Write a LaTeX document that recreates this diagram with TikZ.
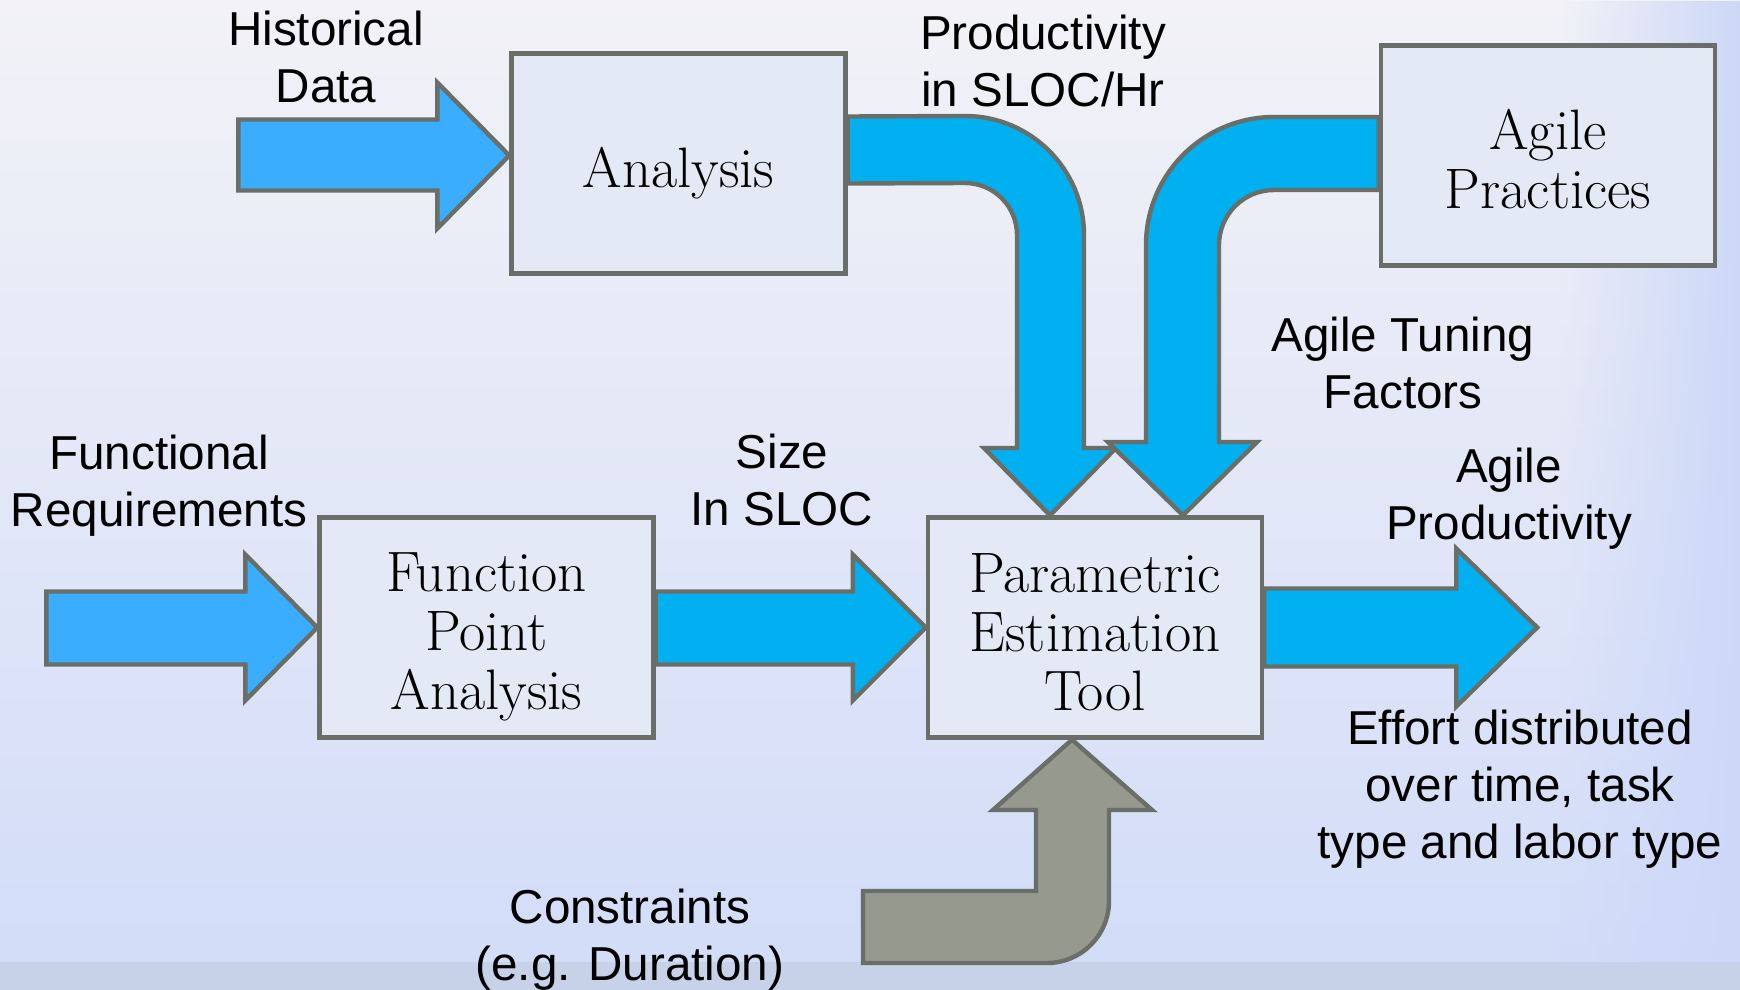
\documentclass[tikz,border=0pt]{standalone}
\usepackage{fontspec}
\setsansfont{Liberation Sans}
\usetikzlibrary{calc,fadings}
\definecolor{skyfill}{RGB}{59,173,255}
\definecolor{flowfill}{RGB}{0,176,240}
\definecolor{stonefill}{RGB}{149,153,142}
\definecolor{rimcol}{RGB}{106,110,104}
\definecolor{boxfill}{RGB}{227,233,245}
\definecolor{bgtop}{RGB}{242,242,247}
\definecolor{bgmid}{RGB}{231,234,250}
\definecolor{bgbot}{RGB}{210,220,248}
\definecolor{bgband}{RGB}{199,210,233}
\definecolor{bgside}{RGB}{205,216,248}
\pgfdeclarelayer{back}
\pgfdeclarelayer{flow}
\pgfsetlayers{back,flow,main}
\tikzfading[name=fadeleft, left color=transparent!100, right color=transparent!0]

\begin{document}
\begin{tikzpicture}[x=0.5pt,y=-0.5pt,
  box/.style={draw=rimcol, line width=2.2pt, fill=boxfill, minimum width=167pt, minimum height=110pt,
    inner sep=0pt, align=center, font=\fontsize{28.5}{29.5}\selectfont},
  tag/.style={align=center, font=\sffamily\fontsize{23.8}{28.6}\selectfont},
  blockarrow/.style={draw=rimcol, line width=2.2pt, line join=miter}]
\useasboundingbox (0,0) rectangle (1740,990);
\begin{pgfonlayer}{back}
\fill[top color=bgtop, middle color=bgmid, bottom color=bgbot] (0,0) rectangle (1740,990);
\fill[bgside, path fading=fadeleft] (1560,0) rectangle (1740,990);
\fill[bgband] (0,962) rectangle (1740,990);
\end{pgfonlayer}

\node [box, text height=30pt] (ana) at (678.5,163.5) {Analysis};
\node [box, text height=53pt] (agp) at (1548,155.5) {Agile\\Practices};
\node [box, text height=88pt] (fpa) at (486.5,627.5) {Function\\Point\\Analysis};
\node [box, text height=83.5pt] (pet) at (1095,627.5) {Parametric\\Estimation\\Tool};

\node [tag] (hist) at (326,57) {Historical\\Data};
\node [tag] (prod) at (1043,61) {Productivity\\in SLOC/Hr};
\node [tag] (tune) at (1403,363) {Agile Tuning\\Factors};
\node [tag] (freq) at (159,486) {Functional\\Requirements};
\node [tag] (size) at (782,480) {Size\\In SLOC};
\node [tag] (aprod) at (1509,499) {Agile\\Productivity};
\node [tag] (eff) at (1520,789) {Effort distributed\\over time, task\\type and labor type};
\node [tag] (cons) at (630,940) {Constraints\\(e.g. Duration)};

\begin{pgfonlayer}{flow}
\draw [blockarrow, fill=skyfill] ($(ana.west)+(0,-8)$) -- ++(-72,-73) -- ++(0,37) -- ++(-199,0)
  -- ++(0,71) -- ++(199,0) -- ++(0,38) -- cycle;
\draw [blockarrow, fill=skyfill] (fpa.west) -- ++(-72,-73) -- ++(0,37) -- ++(-199,0)
  -- ++(0,73) -- ++(199,0) -- ++(0,36) -- cycle;
\draw [blockarrow, fill=flowfill] (pet.west) -- ++(-73,-73) -- ++(0,37) -- ($(fpa.east)+(0,-36)$)
  -- ($(fpa.east)+(0,37)$) -- ($(pet.west)+(-73,37)$) -- ++(0,36) -- cycle;
\draw [blockarrow, fill=flowfill] ($(pet.east)+(0,-39)$) -- ++(192,0) -- ++(0,-40) -- ++(81,79)
  -- ++(-81,79) -- ++(0,-40) -- ($(pet.east)+(0,39)$) -- cycle;
\draw [blockarrow, fill=flowfill] ($(ana.east)+(0,-47)$) -- (965,116) arc [start angle=-90, end angle=0, radius=119]
  -- (1084,448) -- (1116,448) -- ($(pet.north)+(-45,0)$) -- (984,448) -- (1017,448)
  -- (1017,235) arc [start angle=0, end angle=-90, radius=52] -- ($(ana.east)+(0,20)$) -- cycle;
\draw [blockarrow, fill=flowfill] ($(agp.west)+(0,-38.5)$) -- (1274,117) arc [start angle=-90, end angle=-180, radius=128]
  -- (1146,442) -- (1108,442) -- ($(pet.north)+(88,0)$) -- (1257,442) -- (1219,442)
  -- (1219,245) arc [start angle=180, end angle=270, radius=55] -- ($(agp.west)+(0,34.5)$) -- cycle;
\draw [blockarrow, fill=stonefill] ($(pet.south)+(-23,0)$) -- (1152,810) -- (1109,810)
  -- (1109,901) arc [start angle=0, end angle=90, radius=62] -- (863,963) -- (863,891)
  -- (1036,891) -- (1036,810) -- (993,810) -- cycle;
\end{pgfonlayer}
\end{tikzpicture}
\end{document}
